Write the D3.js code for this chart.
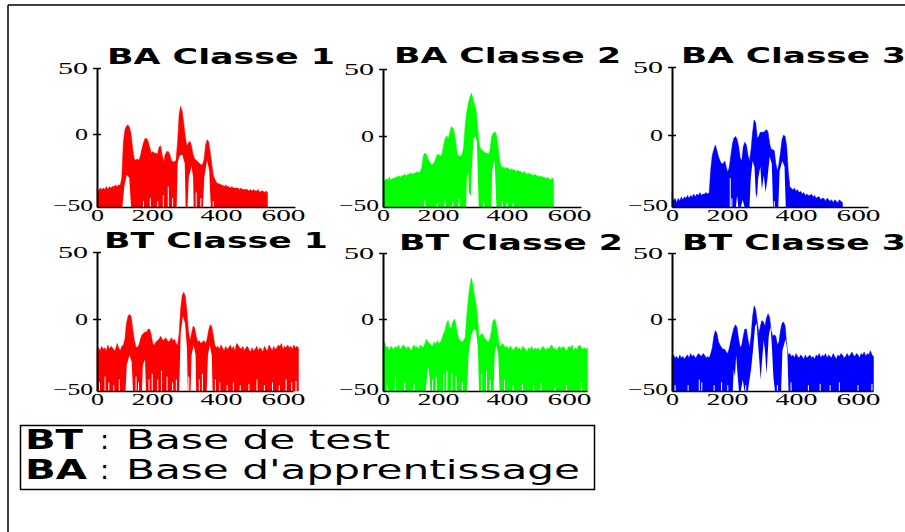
<!DOCTYPE html>
<html><head><meta charset="utf-8">
<script src="https://d3js.org/d3.v7.min.js"></script>
<style>html,body{margin:0;padding:0;background:#fff}svg{display:block}</style>
</head><body><svg id="c" width="905" height="532"></svg>
<script>
// ---------- data ----------
const titles = ["BA Classe 1","BA Classe 2","BA Classe 3","BT Classe 1","BT Classe 2","BT Classe 3"];
const colors = ["#ff0000","#00ff00","#0000ff","#ff0000","#00ff00","#0000ff"];
const yTicks = [-50,0,50];
const xTicks = [0,200,400,600];
const xStep = 5;

// upper envelope of the spectra, one value every 5 units
const upBA1 = [-38,-39,-37,-38,-37,-38,-36,-38,-36,-37,-36,-36,-35,-36,-35,-35,-30,-6,3,6,7,5,0,-10,-17,-18,-17,-18,-15,-10,-6,-3,-3,-5,-9,-13,-12,-13,-13,-14,-9,-8,-14,-19,-14,-12,-12,-14,-18,-19,-19,-18,-5,15,21,17,8,-2,-8,-6,-5,-8,-14,-17,-18,-19,-20,-21,-21,-18,-8,-4,-5,-12,-20,-28,-31,-33,-34,-34,-35,-35,-36,-35,-36,-36,-37,-36,-37,-37,-37,-37,-38,-37,-38,-38,-38,-38,-39,-38,-39,-38,-39,-39,-38,-40,-39,-39,-40,-39,-40];
const upBA2 = [-30,-32,-30,-31,-29,-31,-30,-30,-29,-29,-28,-29,-28,-28,-27,-28,-27,-27,-26,-27,-26,-26,-25,-26,-25,-22,-14,-12,-13,-16,-18,-20,-20,-19,-16,-13,-13,-14,-13,-7,-2,0,-2,2,7,6,3,-5,-13,-14,-14,-13,-8,8,18,24,29,32,28,24,20,8,-5,-9,-10,-11,-12,-12,-13,-10,-1,2,3,2,-5,-15,-21,-22,-22,-23,-22,-23,-24,-23,-24,-24,-25,-24,-25,-25,-26,-25,-26,-27,-26,-27,-27,-28,-27,-28,-28,-29,-28,-29,-29,-30,-29,-30,-31,-30,-30];
const upBA3 = [-40,-46,-44,-47,-44,-46,-43,-45,-43,-44,-42,-44,-42,-43,-41,-43,-41,-42,-40,-42,-41,-41,-40,-41,-40,-24,-14,-10,-7,-11,-15,-18,-20,-20,-18,-22,-26,-22,-14,-6,-2,-1,-3,-8,-16,-18,-8,-5,-7,-14,-18,-10,2,11,9,-2,-1,2,2,2,3,4,2,-6,-10,-10,-11,-20,-25,-20,-12,-3,0,-1,-8,-25,-36,-37,-38,-37,-39,-38,-40,-39,-41,-40,-42,-41,-42,-42,-41,-43,-42,-44,-43,-43,-45,-44,-44,-46,-44,-45,-46,-45,-47,-45,-46,-47,-45,-46,-47];
const upBT1 = [-21,-20,-22,-19,-21,-20,-22,-18,-21,-19,-20,-22,-21,-17,-20,-22,-19,-18,-14,-3,2,3.5,2,-6,-14,-19,-20,-18,-14,-11,-10,-9,-9,-7,-7,-11,-17,-18,-16,-15,-14,-12,-14,-15,-13,-14,-16,-15,-13,-15,-14,-17,-18,-10,8,18,20,17,6,-8,-15,-10,-5,-6,-12,-16,-15,-17,-16,-15,-17,-14,-8,-4,-5,-11,-18,-20,-19,-21,-18,-20,-22,-19,-21,-20,-18,-21,-19,-22,-17,-18,-20,-21,-19,-22,-20,-19,-21,-23,-20,-22,-21,-19,-22,-20,-21,-23,-19,-21,-22,-18,-20,-22,-19,-21,-20,-18,-19,-17,-21,-19,-20,-18,-20,-19,-21,-18,-20,-19,-20];
const upBT2 = [-21,-16,-20,-19,-22,-19,-20,-21,-19,-20,-18,-21,-20,-18,-19,-21,-19,-20,-22,-20,-18,-20,-19,-21,-18,-19,-20,-17,-14,-16,-17,-18,-19,-16,-18,-15,-17,-16,-14,-10,-8,-3,-1,-6,-6,-2,0,-3,-10,-14,-15,-16,-15,-13,2,15,25,31,26,18,12,2,-13,-11,-10,-12,-14,-15,-16,-14,-8,-1,0,-3,-10,-18,-19,-17,-18,-20,-19,-21,-19,-20,-22,-20,-19,-21,-20,-22,-19,-20,-21,-23,-20,-21,-19,-22,-20,-21,-20,-22,-21,-19,-20,-22,-20,-21,-19,-18,-21,-20,-22,-20,-19,-21,-19,-20,-22,-21,-19,-20,-18,-22,-20,-21,-19,-18,-20,-21,-20,-21,-20];
const upBT3 = [-26,-25,-27,-26,-28,-25,-27,-26,-28,-26,-25,-27,-24,-26,-25,-27,-26,-24,-25,-26,-24,-25,-27,-26,-27,-24,-20,-12,-8,-10,-16,-18,-20,-21,-21,-23,-24,-20,-15,-10,-6,-4,-6,-14,-20,-18,-12,-7,-7,-14,-20,-12,2,10,7,-2,-10,-5,-1,-2,-5,1,4,1,-8,-12,-11,-12,-18,-16,-8,-3,-2,-5,-18,-25,-24,-26,-25,-27,-24,-26,-27,-25,-26,-28,-25,-27,-26,-25,-27,-26,-28,-25,-26,-24,-27,-25,-26,-24,-27,-25,-26,-27,-24,-26,-28,-25,-26,-24,-25,-27,-26,-24,-26,-25,-23,-25,-26,-24,-25,-27,-24,-25,-23,-26,-24,-25,-22,-25,-26];

// white hollows under the envelope: polylines of [x, top of the hollow]
const gapsBA1 = [[[82,-50],[88,-36],[96,-28],[104,-30],[110,-50]],[[257,-50],[260,-20],[266,-15],[275,-14],[283,-20],[286,-50]],[[292,-50],[296,-30],[305,-22],[310,-30],[312,-50]],[[342,-50],[346,-30],[355,-18],[362,-25],[367,-50]]];
const gapsBA2 = [[[268,-50],[270,-30],[275,-25],[277,-40],[283,-42],[286,-25],[292,-2],[298,0],[303,-4],[306,-28],[309,-50]],[[350,-50],[352,-25],[358,-17],[361,-20],[364,-40],[366,-50]]];
const gapsBA3 = [[[206,-50],[210,-42],[214,-50]],[[222,-50],[228,-45],[234,-50]],[[250,-50],[254,-30],[260,-18],[266,-22],[270,-40],[274,-44],[278,-30],[285,-22],[290,-38],[296,-28],[302,-40],[308,-30],[315,-15],[322,-20],[326,-50]],[[343,-50],[347,-25],[356,-18],[363,-22],[367,-50]]];
const gapsBT1 = [[[92,-50],[96,-32],[105,-25],[112,-30],[116,-50]],[[145,-50],[148,-32],[155,-28],[158,-50]],[[265,-50],[270,-10],[277,2],[284,-3],[290,-20],[293,-50]],[[302,-50],[305,-25],[312,-18],[318,-25],[320,-50]],[[354,-50],[358,-25],[364,-18],[370,-25],[373,-50]]];
const gapsBT2 = [[[138,-50],[142,-40],[146,-33],[150,-40],[153,-50]],[[271,-50],[276,-25],[284,-12],[292,-7],[300,-8],[306,-20],[310,-50]],[[357,-50],[360,-25],[366,-18],[372,-25],[376,-50]]];
const gapsBT3 = [[[196,-50],[199,-35],[203,-40],[207,-25],[212,-40],[216,-50]],[[222,-50],[228,-42],[234,-50]],[[245,-50],[250,-42],[255,-35],[262,-20],[268,-5],[273,-3],[278,-18],[282,-30],[286,-42],[290,-30],[296,-15],[300,-22],[305,-38],[312,-12],[318,-5],[322,-18],[327,-40],[332,-50]],[[352,-50],[356,-22],[366,-14],[372,-22],[376,-50]]];

// thin white slits rising from the bottom: [x, top]
const slitsBA1 = [[150,-46],[172,-44],[196,-46],[214,-42],[230,-36],[244,-44],[320,-40],[335,-44],[375,-46]];
const slitsBA2 = [[135,-45],[175,-47],[200,-45],[225,-46],[245,-44],[325,-46],[385,-46],[400,-47],[420,-47]];
const slitsBA3 = [[188,-30],[193,-44],[330,-46]];
const slitsBT1 = [[8,-44],[26,-40],[38,-44],[54,-46],[72,-42],[126,-40],[134,-44],[168,-42],[178,-38],[196,-42],[208,-36],[226,-40],[244,-44],[256,-42],[296,-40],[330,-42],[340,-38],[382,-42],[396,-44],[420,-46],[440,-44],[462,-46],[490,-45],[516,-42],[540,-46],[566,-44],[588,-46],[610,-42],[628,-44],[642,-43]];
const slitsBT2 = [[14,-46],[40,-40],[70,-44],[100,-45],[160,-42],[172,-40],[196,-38],[206,-36],[222,-38],[236,-40],[256,-44],[318,-38],[334,-36],[346,-42],[392,-42],[420,-46],[450,-45],[486,-46],[510,-44],[555,-47],[592,-46],[640,-44]];
const slitsBT3 = [[10,-46],[52,-46],[88,-42],[96,-44],[136,-46],[160,-44],[180,-46],[238,-46],[340,-46],[384,-44],[440,-46],[478,-45],[510,-46],[540,-44],[600,-46],[645,-45]];

const uppers = [upBA1,upBA2,upBA3,upBT1,upBT2,upBT3];
const gaps   = [gapsBA1,gapsBA2,gapsBA3,gapsBT1,gapsBT2,gapsBT3];
const slits  = [slitsBA1,slitsBA2,slitsBA3,slitsBT1,slitsBT2,slitsBT3];
const legendBold = ["BT","BA"];
const legendText = ["Base de test","Base d'apprentissage"];

// ---------- layout ----------
const axisX  = [97,383,672,97,383,672];
const axisR  = [295,581,868,293,587,873];
const yTop   = [68,69,67,252,253,253];
const yZero  = [134,136,135,319,319,319];
const yBot   = [207,207,207,391,391,391];
const titleX = [[107,228],[394,227],[681,225],[104,224],[399,224],[682,224]];
const titleY = [64,63,63,248,250,250];
const pxPerUnit = 0.31;
const yLabelW = {"50":30,"0":13,"-50":40};
const xLabelW = {"0":13,"200":42,"400":42,"600":44};
const xLabelShift = {"0":0,"200":-7,"400":0,"600":0};

const svg = d3.select("#c");
svg.append("line").attr("x1",8).attr("x2",905).attr("y1",5).attr("y2",5).attr("stroke","#000").attr("stroke-width",1.5);
svg.append("line").attr("x1",8).attr("x2",8).attr("y1",5).attr("y2",532).attr("stroke","#000").attr("stroke-width",1.5);

titles.forEach((t,i)=>{
  const x = d3.scaleLinear().domain([0,1]).range([axisX[i],axisX[i]+pxPerUnit]);
  const y = d3.scaleLinear().domain([-50,0,50]).range([yBot[i],yZero[i],yTop[i]]);
  const g = svg.append("g");
  const area = d3.area().x((d,k)=>x(k*xStep)).y1(d=>y(d)).y0(y(-50));
  g.append("path").attr("d",area(uppers[i])).attr("fill",colors[i]).attr("stroke",colors[i]).attr("stroke-width",0.5);
  const gap = d3.area().x(d=>x(d[0])).y1(d=>y(d[1])).y0(y(-50));
  gaps[i].forEach(p=>g.append("path").attr("d",gap(p)).attr("fill","#fff"));
  g.selectAll("line.slit").data(slits[i]).join("line").attr("class","slit")
    .attr("x1",d=>x(d[0])).attr("x2",d=>x(d[0])).attr("y1",y(-50)).attr("y2",d=>y(d[1]))
    .attr("stroke","#fff").attr("stroke-width",1);

  const xEnd = (axisR[i]-axisX[i])/pxPerUnit;
  const xAxisScale = d3.scaleLinear().domain([0,xEnd]).range([axisX[i],axisR[i]]);
  const ax = g.append("g").attr("transform",`translate(0,${yBot[i]})`)
    .call(d3.axisBottom(xAxisScale).tickValues(xTicks).tickSize(0).tickSizeOuter(0).tickPadding(0));
  ax.select(".domain").attr("stroke","#000").attr("stroke-width",1.5);
  ax.selectAll("text").attr("font-family","'Liberation Serif'").attr("font-size",17).attr("fill","#000")
    .attr("dy",null).attr("y",14)
    .attr("dx",d=>xLabelShift[d]).attr("textLength",d=>xLabelW[d]).attr("lengthAdjust","spacingAndGlyphs");

  const ay = g.append("g").attr("transform",`translate(${axisX[i]},0)`)
    .call(d3.axisLeft(y).tickValues(yTicks).tickSize(4).tickSizeOuter(0).tickPadding(0));
  ay.select(".domain").attr("stroke","#000").attr("stroke-width",2);
  ay.selectAll("line").attr("x1",-4).attr("x2",4).attr("stroke","#000").attr("stroke-width",1.5);
  ay.selectAll("text").attr("font-family","'Liberation Serif'").attr("font-size",17).attr("fill","#000")
    .attr("dy",null).attr("x",d=>d===-50?-4:-9).attr("y",d=>d===-50?3:5)
    .attr("text-anchor","end").attr("textLength",d=>yLabelW[d]).attr("lengthAdjust","spacingAndGlyphs");
  ay.selectAll(".tick").filter(d=>d===-50).select("line").remove();

  g.append("text").text(t).attr("x",titleX[i][0]).attr("y",titleY[i])
    .attr("font-family","'DejaVu Sans'").attr("font-weight","bold").attr("font-size",21)
    .attr("textLength",titleX[i][1]).attr("lengthAdjust","spacingAndGlyphs");
});

// legend
svg.append("rect").attr("x",20.5).attr("y",425.5).attr("width",574).attr("height",64)
  .attr("fill","#fff").attr("stroke","#000").attr("stroke-width",1.5);
const lg = [[25,58,264],[25,62,454]];
legendBold.forEach((b,i)=>{
  const by = 449+i*30;
  const f = s=>s.attr("y",by).attr("font-family","'DejaVu Sans'").attr("font-size",27).attr("lengthAdjust","spacingAndGlyphs");
  svg.append("text").text(b).call(f).attr("x",lg[i][0]).attr("font-weight","bold").attr("textLength",lg[i][1]);
  svg.append("text").text(":").call(f).attr("x",100);
  svg.append("text").text(legendText[i]).call(f).attr("x",126).attr("textLength",lg[i][2]);
});
</script></body></html>
